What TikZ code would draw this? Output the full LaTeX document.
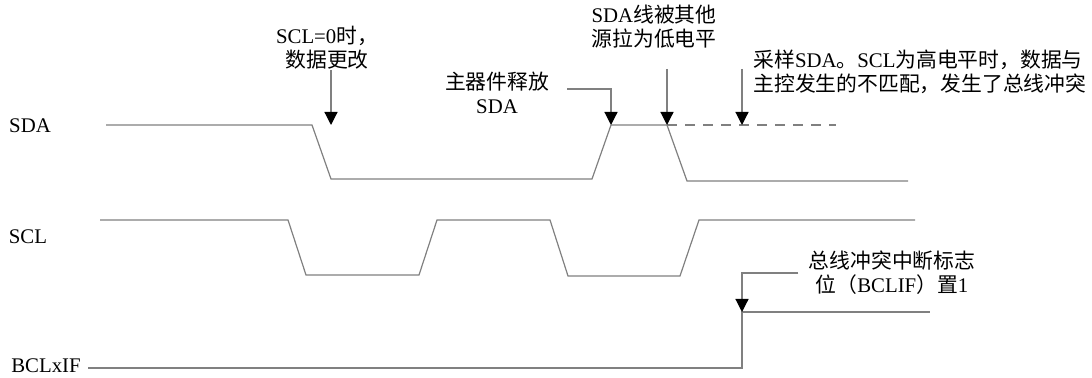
\documentclass[tikz,border=0pt]{standalone}
\usepackage{fontspec}
\setmainfont{Liberation Serif}
\newfontfamily\cjk{Noto Sans CJK SC}
\newcommand{\zh}[1]{{\cjk #1}}
\usetikzlibrary{arrows.meta}

\begin{document}
\begin{tikzpicture}[x=0.5pt, y=-0.5pt,
	wave/.style={draw=gray, line width=0.6pt},
	pointer/.style={draw=gray, line width=0.6pt, -{Triangle[width=6.5pt, length=6.5pt, black]}},
	note/.style={align=center, inner sep=2pt, font=\fontsize{10.4}{12}\selectfont},
	siglabel/.style={inner sep=1pt, font=\fontsize{10.4}{12}\selectfont}]
	\useasboundingbox (0, 0) rectangle (1092, 378);
	% Signal names:
	\node[siglabel] (sda) at (30, 126){SDA};
	\node[siglabel] (scl) at (28, 237){SCL};
	\node[siglabel] (bcl) at (46, 366){BCLxIF};
	% Waveforms:
	\draw[wave] (106, 125) -- (312, 125) -- (331, 179) -- (592, 179) -- (611, 125) -- (667, 125) -- (687, 181) -- (908, 181);
	\draw[wave, dashed, dash pattern=on 5pt off 4pt] (667, 125) -- (836, 125);
	\draw[wave] (100, 220) -- (288, 220) -- (306, 275) -- (419, 275) -- (437, 220) -- (550, 220) -- (568, 276) -- (680, 276) -- (699, 220) -- (915, 220);
	\draw[wave] (88, 368) -- (742, 368) -- (742, 312) -- (930, 312);
	% Arrow targets:
	\coordinate (t1) at (331, 125);
	\coordinate (t2) at (611, 125);
	\coordinate (t3) at (667, 125);
	\coordinate (t4) at (742, 125);
	\coordinate (t5) at (742, 312);
	% Notes and pointers:
	\node[note] (change) at (327, 48){SCL=0\zh{时，}\\\zh{数据更改}};
	\node[note] (release) at (497, 93){\zh{主器件释放}\\SDA};
	\node[note] (pulled) at (654, 27){SDA\zh{线被其他}\\\zh{源拉为低电平}};
	\node[note, align=left, anchor=west] (sample) at (749, 72){\zh{采样}SDA\zh{。}SCL\zh{为高电平时，数据与}\\\zh{主控发生的不匹配，发生了总线冲突}};
	\node[note] (flag) at (892, 273){\zh{总线冲突中断标志}\\\zh{位（}BCLIF\zh{）置}1};
	\draw[pointer] ([yshift=2pt]change.south -| t1) -- (t1);
	\draw[pointer] ([xshift=7pt, yshift=2pt]release.east) -| (t2);
	\draw[pointer] (t3 |- 0, 69) -- (t3);
	\draw[pointer] (t4 |- 0, 69) -- (t4);
	\draw[pointer] ([xshift=-3pt]flag.west) -| (t5);
\end{tikzpicture}
\end{document}
